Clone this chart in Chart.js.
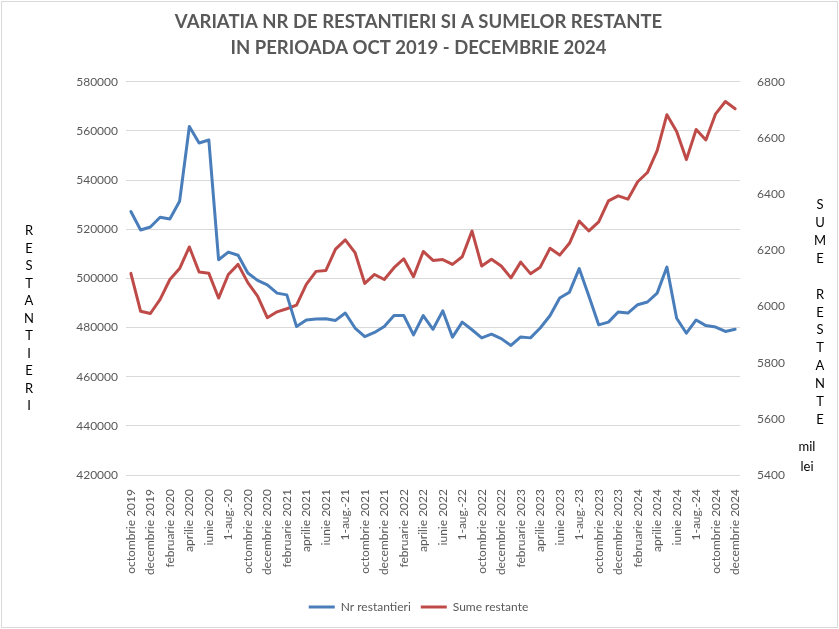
<!DOCTYPE html>
<html>
<head>
<meta charset="utf-8">
<script src="https://cdn.jsdelivr.net/npm/chart.js@4.4.0/dist/chart.umd.min.js"></script>
<style>
  html, body { margin: 0; padding: 0; background: #fff; }
  #wrap { width: 839px; height: 629px; }
</style>
</head>
<body>
<div id="wrap"><canvas id="chart" width="839" height="629"></canvas></div>
<script>
'use strict';
// luni: octombrie 2019 - decembrie 2024
const luni = [
  'octombrie 2019', 'noiembrie 2019', 'decembrie 2019', 'ianuarie 2020', 'februarie 2020', 'martie 2020',
  'aprilie 2020', 'mai 2020', 'iunie 2020', 'iulie 2020', '1-aug.-20', 'septembrie 2020',
  'octombrie 2020', 'noiembrie 2020', 'decembrie 2020', 'ianuarie 2021', 'februarie 2021', 'martie 2021',
  'aprilie 2021', 'mai 2021', 'iunie 2021', 'iulie 2021', '1-aug.-21', 'septembrie 2021',
  'octombrie 2021', 'noiembrie 2021', 'decembrie 2021', 'ianuarie 2022', 'februarie 2022', 'martie 2022',
  'aprilie 2022', 'mai 2022', 'iunie 2022', 'iulie 2022', '1-aug.-22', 'septembrie 2022',
  'octombrie 2022', 'noiembrie 2022', 'decembrie 2022', 'ianuarie 2023', 'februarie 2023', 'martie 2023',
  'aprilie 2023', 'mai 2023', 'iunie 2023', 'iulie 2023', '1-aug.-23', 'septembrie 2023',
  'octombrie 2023', 'noiembrie 2023', 'decembrie 2023', 'ianuarie 2024', 'februarie 2024', 'martie 2024',
  'aprilie 2024', 'mai 2024', 'iunie 2024', 'iulie 2024', '1-aug.-24', 'septembrie 2024',
  'octombrie 2024', 'noiembrie 2024', 'decembrie 2024'
];

// numar restantieri (axa stanga)
const nrRestantieri = [
  527200, 519700, 520900, 524900, 524200, 531400, 561800, 555100, 556300, 507600,
  510700, 509400, 502200, 499200, 497400, 494000, 493300, 480400, 483100, 483500,
  483600, 482900, 485900, 479800, 476300, 478000, 480400, 484900, 484900, 477000,
  484900, 479300, 486800, 476100, 482200, 479100, 475800, 477300, 475500, 472700,
  476200, 475800, 479800, 484800, 492000, 494400, 504000, 492700, 481100, 482200,
  486300, 485900, 489300, 490400, 494000, 504600, 483800, 477700, 483100, 480800,
  480200, 478400, 479300
];

// sume restante, mil lei (axa dreapta)
const sumeRestante = [
  6118, 5983, 5975, 6025, 6096, 6135, 6212, 6123, 6118, 6030,
  6114, 6150, 6085, 6037, 5960, 5981, 5992, 6005, 6079, 6125,
  6128, 6204, 6237, 6192, 6082, 6114, 6096, 6138, 6170, 6106,
  6196, 6164, 6167, 6150, 6177, 6269, 6144, 6168, 6144, 6102,
  6158, 6117, 6140, 6207, 6183, 6225, 6304, 6269, 6301, 6376,
  6394, 6382, 6444, 6477, 6555, 6683, 6623, 6523, 6630, 6593,
  6686, 6730, 6704
];

const titlu = ['VARIATIA NR DE RESTANTIERI SI A SUMELOR RESTANTE', 'IN PERIOADA OCT 2019 - DECEMBRIE 2024'];
const titluStanga = 'RESTANTIERI';
const titluDreapta = 'SUME RESTANTE';
const unitate = ['mil', 'lei'];

const FONT = 'Lato, "Open Sans", sans-serif';
const GRI = '#595959';

// literele titlurilor de axa + chenarul
const axeText = {
  id: 'axeText',
  afterDraw(chart) {
    const ctx = chart.ctx;
    ctx.save();
    ctx.font = '13px ' + FONT;
    ctx.fillStyle = '#000';
    ctx.textAlign = 'center';
    ctx.textBaseline = 'middle';
    titluStanga.split('').forEach((c, i) => ctx.fillText(c, 29, 231 + i * 17.5));
    titluDreapta.split('').forEach((c, i) => {
      if (c !== ' ') ctx.fillText(c, 820, 205 + i * 17.9);
    });
    unitate.forEach((t, i) => ctx.fillText(t, 807, 447 + i * 20));
    ctx.strokeStyle = '#D9D9D9';
    ctx.lineWidth = 1;
    ctx.strokeRect(1.5, 1.5, 836, 626);
    ctx.restore();
  }
};

const simplu = v => String(v);

const ctx = document.getElementById('chart').getContext('2d');
new Chart(ctx, {
  type: 'line',
  data: {
    labels: luni,
    datasets: [{
      label: 'Nr restantieri',
      data: nrRestantieri,
      yAxisID: 'y',
      borderColor: '#4A7EBB',
      backgroundColor: '#4A7EBB',
      borderWidth: 3,
      pointRadius: 0,
      tension: 0,
      borderJoinStyle: 'round',
      borderCapStyle: 'round'
    }, {
      label: 'Sume restante',
      data: sumeRestante,
      yAxisID: 'y1',
      borderColor: '#BE4B48',
      backgroundColor: '#BE4B48',
      borderWidth: 3,
      pointRadius: 0,
      tension: 0,
      borderJoinStyle: 'round',
      borderCapStyle: 'round'
    }]
  },
  options: {
    responsive: false,
    animation: false,
    devicePixelRatio: 1,
    layout: { padding: { left: 48, right: 50, top: 0, bottom: 6 } },
    plugins: {
      title: {
        display: true,
        text: titlu,
        color: GRI,
        font: { family: FONT, size: 18.5, weight: 'bold', lineHeight: 1.4 },
        padding: { top: 9, bottom: 21 }
      },
      legend: {
        position: 'bottom',
        labels: {
          usePointStyle: true,
          pointStyle: 'line',
          pointStyleWidth: 26,
          boxHeight: 12,
          color: GRI,
          font: { family: FONT, size: 12 },
          padding: 10
        }
      },
      tooltip: { enabled: false }
    },
    scales: {
      x: {
        offset: true,
        grid: { display: false },
        border: { display: false },
        ticks: {
          autoSkip: false,
          maxRotation: 90,
          minRotation: 90,
          padding: 6,
          color: GRI,
          font: { family: FONT, size: 12 },
          callback: function (v, i) { return i % 2 === 0 ? this.getLabelForValue(v) : ''; }
        },
        afterFit(s) { s.height = 116; }
      },
      y: {
        position: 'left',
        min: 420000,
        max: 580000,
        grid: { color: '#D9D9D9', drawTicks: false },
        border: { display: false },
        ticks: {
          stepSize: 20000,
          padding: 8,
          color: GRI,
          font: { family: FONT, size: 12 },
          callback: simplu
        },
        afterFit(s) { s.width = 78; }
      },
      y1: {
        position: 'right',
        min: 5400,
        max: 6800,
        grid: { display: false },
        border: { display: false },
        ticks: {
          stepSize: 200,
          padding: 9,
          color: GRI,
          font: { family: FONT, size: 12 },
          callback: simplu
        },
        afterFit(s) { s.width = 49; }
      }
    }
  },
  plugins: [axeText]
});
</script>
</body>
</html>
